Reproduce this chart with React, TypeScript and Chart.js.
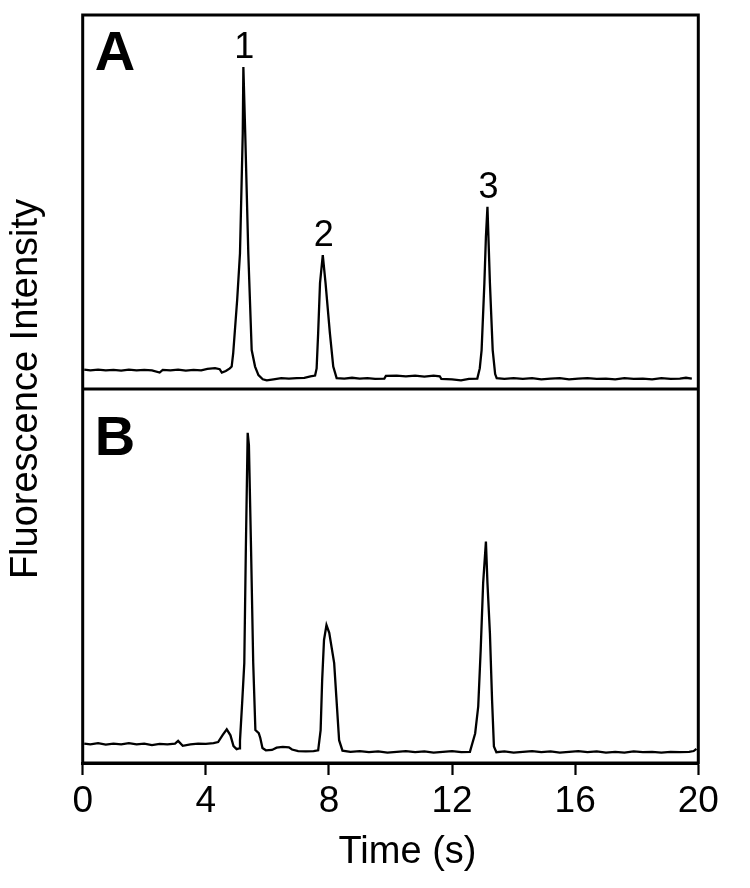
import React, { useEffect, useRef } from "react";
import { Chart, registerables } from "chart.js";

Chart.register(...registerables);

// Panel A (top trace)
const timesA = [
  0.05, 0.25, 0.5, 0.75, 1.0, 1.25, 1.5, 1.75, 2.0, 2.25, 2.5, 2.6, 2.85, 3.1, 3.35, 3.6, 3.85, 4.05, 4.3, 4.45,
  4.52, 4.65, 4.78, 4.84, 4.89, 5.02, 5.11, 5.2, 5.22, 5.28, 5.38, 5.49, 5.6, 5.71, 5.85, 5.98, 6.2, 6.45, 6.7, 6.95,
  7.2, 7.4, 7.55, 7.6, 7.65, 7.71, 7.8, 7.89, 8.03, 8.14, 8.25, 8.5, 8.75, 9.0, 9.25, 9.5, 9.8, 9.85, 10.2, 10.5,
  10.8, 11.1, 11.4, 11.6, 11.65, 12.0, 12.29, 12.55, 12.82, 12.9, 12.96, 13.05, 13.1, 13.15, 13.23, 13.32, 13.4, 13.45, 13.7, 14.0,
  14.3, 14.6, 14.9, 15.2, 15.5, 15.8, 16.1, 16.4, 16.7, 17.0, 17.3, 17.6, 17.9, 18.2, 18.5, 18.8, 19.1, 19.4, 19.6, 19.79,
];
const valuesA = [
  5.2, 5.0, 5.2, 5.0, 5.1, 4.9, 5.2, 5.0, 5.1, 5.0, 4.4, 5.1, 5.0, 5.2, 4.9, 5.1, 5.0, 5.4, 5.6, 5.3,
  4.4, 4.8, 5.5, 6.0, 9.6, 24.0, 36.3, 68.4, 86.1, 68.4, 36.3, 10.4, 6.0, 3.7, 2.6, 2.3, 2.6, 2.9, 2.8, 2.9,
  3.0, 3.4, 3.6, 5.5, 15.0, 28.3, 35.8, 28.3, 15.0, 6.0, 2.9, 2.8, 3.0, 2.8, 2.9, 2.7, 2.8, 3.5, 3.6, 3.4,
  3.6, 3.3, 3.6, 3.4, 2.7, 2.6, 2.3, 2.7, 2.8, 5.5, 10.4, 28.3, 40.7, 48.7, 28.3, 10.4, 4.0, 2.9, 2.7, 2.9,
  2.7, 2.9, 2.6, 2.8, 2.9, 2.6, 2.8, 2.9, 2.7, 2.8, 2.6, 2.9, 2.7, 2.8, 2.6, 2.9, 2.7, 2.8, 3.0, 2.8,
];

// Panel B (bottom trace)
const timesB = [
  0.05, 0.25, 0.5, 0.75, 1.0, 1.25, 1.5, 1.75, 2.0, 2.25, 2.5, 2.75, 3.0, 3.1, 3.25, 3.5, 3.75, 4.0, 4.25, 4.4,
  4.55, 4.68, 4.8, 4.9, 5.0, 5.08, 5.11, 5.18, 5.25, 5.3, 5.36, 5.4, 5.47, 5.54, 5.61, 5.72, 5.77, 5.84, 5.95, 6.15,
  6.3, 6.5, 6.7, 6.8, 7.0, 7.25, 7.5, 7.65, 7.73, 7.78, 7.84, 7.92, 8.01, 8.17, 8.24, 8.33, 8.44, 8.7, 9.0, 9.3,
  9.6, 9.9, 10.2, 10.5, 10.8, 11.1, 11.4, 11.7, 12.0, 12.3, 12.58, 12.75, 12.85, 12.93, 13.01, 13.1, 13.15, 13.23, 13.3, 13.36,
  13.44, 13.7, 14.0, 14.3, 14.6, 14.9, 15.2, 15.5, 15.8, 16.1, 16.4, 16.7, 17.0, 17.3, 17.6, 17.9, 18.2, 18.5, 18.8, 19.1,
  19.4, 19.7, 19.85, 19.94,
];
const valuesB = [
  5.2, 5.0, 5.3, 4.9, 5.2, 5.0, 5.3, 5.0, 5.2, 4.8, 5.1, 5.0, 5.2, 5.9, 4.6, 5.0, 5.2, 5.1, 5.3, 5.6,
  7.5, 9.0, 7.4, 4.5, 3.7, 3.9, 6.0, 16.0, 26.7, 57.0, 88.3, 85.0, 57.0, 26.7, 8.8, 8.0, 6.7, 4.0, 3.4, 3.5,
  4.1, 4.3, 4.2, 3.6, 3.2, 3.1, 3.2, 3.4, 8.8, 22.2, 32.9, 36.9, 34.8, 26.7, 17.7, 6.1, 3.3, 3.0, 3.2, 2.9,
  3.1, 2.8, 3.0, 3.2, 2.9, 3.1, 2.8, 3.0, 3.2, 2.9, 3.0, 7.9, 15.1, 30.2, 48.1, 59.2, 48.1, 34.7, 16.8, 4.4,
  2.9, 3.1, 2.8, 3.0, 3.2, 2.9, 3.1, 2.8, 3.0, 3.2, 2.9, 3.1, 2.8, 3.0, 2.8, 3.1, 2.9, 3.0, 2.8, 3.0,
  2.9, 3.0, 3.2, 3.8,
];

// Peak labels in panel A
const peakLabels = ["1", "2", "3"];
const peakTimes = [5.22, 7.8, 13.15];
const peakValues = [86.1, 35.8, 48.7];

const panelLetters = ["A", "B"];
const xTicks = [0, 4, 8, 12, 16, 20];
const xTitle = "Time (s)";
const yTitle = "Fluorescence Intensity";

const FONT = "'Liberation Sans', Arial, Helvetica, sans-serif";

const decorations = {
  id: "decorations",
  afterDraw(chart: any) {
    const { ctx, chartArea } = chart;
    const { left, right, top, bottom } = chartArea;
    const yA = chart.scales.yA;
    const yB = chart.scales.yB;
    const x = chart.scales.x;
    ctx.save();
    ctx.strokeStyle = "#000";
    ctx.lineWidth = 3;
    ctx.strokeRect(left, top, right - left, bottom - top);
    ctx.beginPath();
    ctx.moveTo(left, yA.bottom);
    ctx.lineTo(right, yA.bottom);
    ctx.stroke();

    ctx.fillStyle = "#000";
    ctx.font = `bold 56px ${FONT}`;
    ctx.textAlign = "left";
    ctx.textBaseline = "alphabetic";
    ctx.fillText(panelLetters[0], left + 12, yA.top + 55);
    ctx.fillText(panelLetters[1], left + 12, yB.top + 66);

    ctx.font = `36px ${FONT}`;
    ctx.textAlign = "center";
    peakLabels.forEach((lab, i) => {
      const px = x.getPixelForValue(peakTimes[i]);
      const py = yA.getPixelForValue(peakValues[i]);
      ctx.fillText(lab, px + 1, py - 9);
    });

    // x axis title (slightly right of centre, as in the figure)
    ctx.font = `38px ${FONT}`;
    ctx.textAlign = "center";
    ctx.textBaseline = "alphabetic";
    ctx.fillText(xTitle, (left + right) / 2 + 17, bottom + 100);

    ctx.translate(27, yA.bottom);
    ctx.rotate(-Math.PI / 2);
    ctx.font = `38px ${FONT}`;
    ctx.textAlign = "center";
    ctx.textBaseline = "middle";
    ctx.fillText(yTitle, 0, 0);
    ctx.restore();
  },
};

export default function App() {
  const ref = useRef<HTMLCanvasElement | null>(null);
  useEffect(() => {
    document.body.style.margin = "0";
    const canvas = ref.current;
    if (!canvas) return;
    const chart = new Chart(canvas, {
      type: "line",
      data: {
        datasets: [
          {
            label: "A",
            data: timesA.map((t, i) => ({ x: t, y: valuesA[i] })),
            yAxisID: "yA",
            borderColor: "#000",
            borderWidth: 2.3,
            pointRadius: 0,
            tension: 0,
            fill: false,
          },
          {
            label: "B",
            data: timesB.map((t, i) => ({ x: t, y: valuesB[i] })),
            yAxisID: "yB",
            borderColor: "#000",
            borderWidth: 2.3,
            pointRadius: 0,
            tension: 0,
            fill: false,
          },
        ],
      },
      options: {
        responsive: false,
        animation: false,
        devicePixelRatio: 1,
        layout: { padding: { left: 82.7, right: 51.7, top: 15, bottom: 0 } },
        plugins: { legend: { display: false }, tooltip: { enabled: false } },
        scales: {
          x: {
            type: "linear",
            min: 0,
            max: 20,
            afterBuildTicks: (scale: any) => {
              scale.ticks = xTicks.map((v) => ({ value: v }));
            },
            afterFit: (scale: any) => {
              scale.height = 125;
            },
            ticks: {
              color: "#000",
              font: { family: FONT, size: 37 },
              padding: 5,
              maxRotation: 0,
            },
            grid: {
              display: true,
              drawOnChartArea: false,
              drawTicks: true,
              tickLength: 12,
              tickWidth: 2.2,
              color: "#000",
            },
            border: { display: true, color: "#000", width: 3 },
            title: { display: false },
          },
          yB: {
            type: "linear",
            position: "left",
            stack: "panels",
            stackWeight: 1,
            min: 0,
            max: 100,
            ticks: { display: false },
            grid: { display: false, drawTicks: false },
            border: { display: false },
          },
          yA: {
            type: "linear",
            position: "left",
            stack: "panels",
            stackWeight: 1,
            min: 0,
            max: 100,
            ticks: { display: false },
            grid: { display: false, drawTicks: false },
            border: { display: false },
          },
        },
      },
      plugins: [decorations],
    });
    return () => chart.destroy();
  }, []);
  return <canvas ref={ref} width={750} height={888} style={{ display: "block", width: 750, height: 888 }} />;
}
